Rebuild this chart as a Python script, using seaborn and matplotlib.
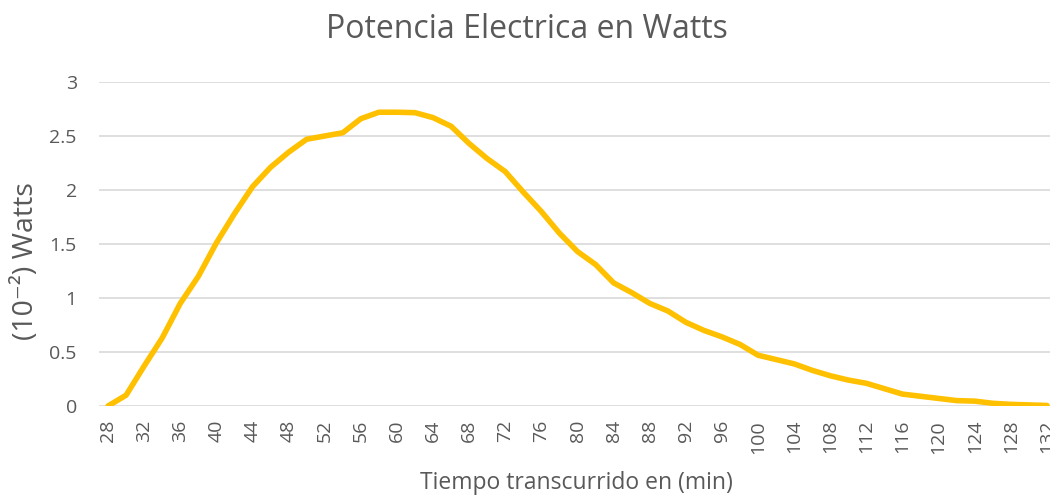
import matplotlib
matplotlib.use("Agg")
import matplotlib.pyplot as plt
import seaborn as sns
import pandas as pd

minutes = list(range(28, 133, 2))
watts = [0.00, 0.10, 0.37, 0.63, 0.95, 1.20, 1.51, 1.78, 2.03, 2.21,
         2.35, 2.47, 2.50, 2.53, 2.66, 2.72, 2.72, 2.716, 2.67, 2.59,
         2.43, 2.29, 2.17, 1.98, 1.80, 1.60, 1.43, 1.31, 1.14, 1.05,
         0.95, 0.88, 0.775, 0.70, 0.64, 0.57, 0.47, 0.43, 0.39, 0.33,
         0.28, 0.24, 0.21, 0.16, 0.11, 0.09, 0.07, 0.05, 0.045, 0.025,
         0.015, 0.01, 0.005]
xticks = list(range(28, 133, 4))
yticks = [0, 0.5, 1, 1.5, 2, 2.5, 3]
ytick_labels = ["0", "0.5", "1", "1.5", "2", "2.5", "3"]

title = "Potencia Electrica en Watts"
xlabel = "Tiempo transcurrido en (min)"
ylabel = "(10⁻²) Watts"

df = pd.DataFrame({"min": minutes, "w": watts})

sns.set_theme(style="white")
plt.rcParams["font.family"] = ["Open Sans", "DejaVu Sans"]
txt = "#595959"

fig = plt.figure(figsize=(10.5, 4.95), dpi=100)
ax = fig.add_axes([99 / 1050, 89 / 495, 951 / 1050, 324 / 495])

sns.lineplot(data=df, x="min", y="w", ax=ax, color="#FFC000", linewidth=4.0,
             solid_capstyle="round", solid_joinstyle="round", zorder=3)

ax.set_xlim(27, 132.33)
ax.set_ylim(0, 3)
ax.set_yticks(yticks)
ax.set_yticklabels(ytick_labels)
ax.set_xticks(xticks)
ax.set_xticklabels([str(t) for t in xticks], rotation=90)
ax.tick_params(axis="both", length=0, labelsize=14, colors=txt)
ax.tick_params(axis="y", pad=16)
ax.tick_params(axis="x", pad=10)
ax.yaxis.grid(True, color="#D9D9D9", linewidth=1.2)
ax.set_axisbelow(True)
for s in ["top", "right", "left", "bottom"]:
    ax.spines[s].set_visible(False)

ax.set_xlabel(xlabel, fontsize=16.5, color=txt)
ax.xaxis.set_label_coords(576 / 1050, 1 - 483 / 495, transform=fig.transFigure)
ax.xaxis.label.set_va("center")
ax.set_ylabel(ylabel, fontsize=20.5, color=txt)
ax.yaxis.set_label_coords(26 / 1050, 1 - 261 / 495, transform=fig.transFigure)
ax.yaxis.label.set_va("center")
fig.text(527 / 1050, 1 - 29 / 495, title, fontsize=23, color=txt,
         ha="center", va="center")

fig.savefig("out.png", dpi=100)
